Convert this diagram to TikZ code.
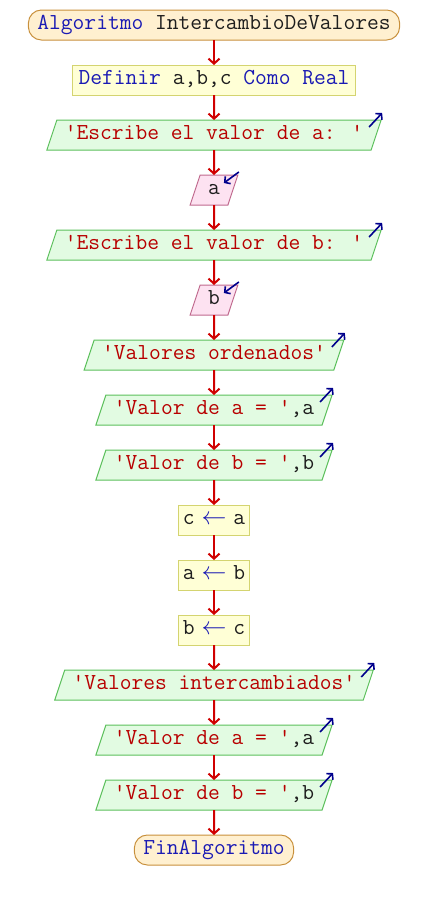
\documentclass[tikz,border=0pt]{standalone}
\usepackage{fontspec}
\usetikzlibrary{shapes.geometric}
\usetikzlibrary{arrows.meta}

\definecolor{kwblue}{HTML}{1A1AB4}
\definecolor{strred}{HTML}{B80000}
\definecolor{varblack}{HTML}{1E1E1E}
\definecolor{flowred}{HTML}{D00000}
\definecolor{iconblue}{HTML}{00008C}
\definecolor{termfill}{HTML}{FFF0D0}
\definecolor{termline}{HTML}{C8903C}
\definecolor{deffill}{HTML}{FFFFD6}
\definecolor{defline}{HTML}{D4D470}
\definecolor{outfill}{HTML}{E2FBE2}
\definecolor{outline}{HTML}{5CC05C}
\definecolor{infill}{HTML}{FDE2F1}
\definecolor{inline}{HTML}{C06A8E}

\tikzset{
  every node/.style={font=\ttfamily\fontsize{22.86}{27}\selectfont, text=varblack,
    outer sep=0pt, text height=13pt, text depth=4pt, line width=1pt},
  terminal/.style={draw=termline, fill=termfill, rounded corners=13pt,
    minimum height=30pt, inner xsep=9pt},
  defbox/.style={draw=defline, fill=deffill, minimum height=30pt, inner xsep=6pt},
  assignbox/.style={draw=defline, fill=deffill, minimum height=30pt,
    minimum width=71pt, inner xsep=1pt},
  iobox/.style={trapezium, trapezium left angle=71.57, trapezium right angle=108.43,
    inner xsep=8pt, inner ysep=6.5pt},
  outbox/.style={iobox, draw=outline, fill=outfill},
  inbox/.style={iobox, draw=inline, fill=infill},
  flow/.style={draw=flowred, line width=2pt, -{Straight Barb[length=5pt,width=11pt]}},
  icon/.style={draw=iconblue, line width=1.6pt, -{Straight Barb[length=4pt,width=9pt]}}
}

\begin{document}
\begin{tikzpicture}[x=1pt, y=-1pt]
    \useasboundingbox (0,0) rectangle (428,900);

    % the nodes, top to bottom
    \node[terminal] (start) at (214,25) {\textcolor{kwblue}{Algoritmo} IntercambioDeValores};
    \node[defbox] (def) at (214,80) {\textcolor{kwblue}{Definir} a,b,c \textcolor{kwblue}{Como Real}};
    \node[outbox] (esca) at (214,135) {\textcolor{strred}{'Escribe el valor de a: '}};
    \node[inbox] (reada) at (214,190) {a};
    \node[outbox] (escb) at (214,245) {\textcolor{strred}{'Escribe el valor de b: '}};
    \node[inbox] (readb) at (214,300) {b};
    \node[outbox] (ord) at (214,355) {\textcolor{strred}{'Valores ordenados'}};
    \node[outbox] (ordva) at (214,410) {\textcolor{strred}{'Valor de a = '},a};
    \node[outbox] (ordvb) at (214,465) {\textcolor{strred}{'Valor de b = '},b};
    \node[assignbox] (ca) at (214,520) {c\hspace{7pt}\textcolor{kwblue}{$\leftarrow$}\hspace{7pt}a};
    \node[assignbox] (ab) at (214,575) {a\hspace{7pt}\textcolor{kwblue}{$\leftarrow$}\hspace{7pt}b};
    \node[assignbox] (bc) at (214,630) {b\hspace{7pt}\textcolor{kwblue}{$\leftarrow$}\hspace{7pt}c};
    \node[outbox] (inter) at (214,685) {\textcolor{strred}{'Valores intercambiados'}};
    \node[outbox] (interva) at (214,740) {\textcolor{strred}{'Valor de a = '},a};
    \node[outbox] (intervb) at (214,795) {\textcolor{strred}{'Valor de b = '},b};
    \node[terminal] (fin) at (214,850) {\textcolor{kwblue}{FinAlgoritmo}};

    % the flow lines
    \draw[flow] (start.south) -- (def.north);
    \draw[flow] (def.south) -- (esca.north);
    \draw[flow] (esca.south) -- (reada.north);
    \draw[flow] (reada.south) -- (escb.north);
    \draw[flow] (escb.south) -- (readb.north);
    \draw[flow] (readb.south) -- (ord.north);
    \draw[flow] (ord.south) -- (ordva.north);
    \draw[flow] (ordva.south) -- (ordvb.north);
    \draw[flow] (ordvb.south) -- (ca.north);
    \draw[flow] (ca.south) -- (ab.north);
    \draw[flow] (ab.south) -- (bc.north);
    \draw[flow] (bc.south) -- (inter.north);
    \draw[flow] (inter.south) -- (interva.north);
    \draw[flow] (interva.south) -- (intervb.north);
    \draw[flow] (intervb.south) -- (fin.north);

    % output marks
    \draw[icon] ([shift={(-12,7)}]esca.top right corner) -- ([shift={(1,-7)}]esca.top right corner);
    \draw[icon] ([shift={(-12,7)}]escb.top right corner) -- ([shift={(1,-7)}]escb.top right corner);
    \draw[icon] ([shift={(-12,7)}]ord.top right corner) -- ([shift={(1,-7)}]ord.top right corner);
    \draw[icon] ([shift={(-12,7)}]ordva.top right corner) -- ([shift={(1,-7)}]ordva.top right corner);
    \draw[icon] ([shift={(-12,7)}]ordvb.top right corner) -- ([shift={(1,-7)}]ordvb.top right corner);
    \draw[icon] ([shift={(-12,7)}]inter.top right corner) -- ([shift={(1,-7)}]inter.top right corner);
    \draw[icon] ([shift={(-12,7)}]interva.top right corner) -- ([shift={(1,-7)}]interva.top right corner);
    \draw[icon] ([shift={(-12,7)}]intervb.top right corner) -- ([shift={(1,-7)}]intervb.top right corner);

    % input marks
    \draw[icon] ([shift={(1,-3)}]reada.top right corner) -- ([shift={(-14,8)}]reada.top right corner);
    \draw[icon] ([shift={(1,-3)}]readb.top right corner) -- ([shift={(-14,8)}]readb.top right corner);
\end{tikzpicture}
\end{document}
